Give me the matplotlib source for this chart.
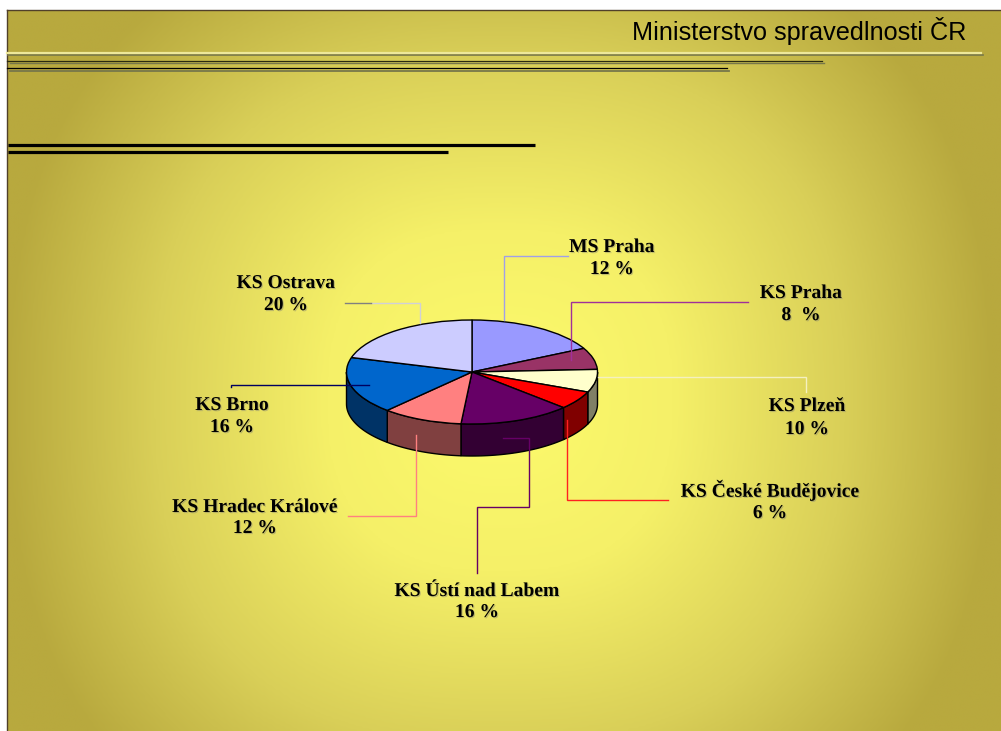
import numpy as np
from matplotlib import pyplot as plt
from matplotlib import patheffects as pe
from matplotlib.colors import LinearSegmentedColormap
from matplotlib.transforms import Affine2D

# data: shares as drawn in the pie, labels as printed
kraje = ['MS Praha', 'KS Praha', 'KS Plzeň', 'KS České Budějovice',
         'KS Ústí nad Labem', 'KS Hradec Králové', 'KS Brno', 'KS Ostrava']
popisky = ['12 %', '8  %', '10 %', '6 %', '16 %', '12 %', '16 %', '20 %']
podily = [17.5, 6.7, 7.1, 5.7, 14.4, 10.4, 17.7, 20.5]

barvy = ['#9999FF', '#993366', '#FFFFCC', '#FF0000',
         '#660066', '#FF8080', '#0066CC', '#CCCCFF']
barvy_bok = ['#4D4D80', '#4D1A33', '#808066', '#800000',
             '#330033', '#804040', '#003366', '#666680']

# label centres in pixels (first line, second line), same order as kraje
pozice = [(612, 247, 269), (801, 293, 315), (807, 406, 429), (770, 490, 513),
          (477, 591, 612), (255, 507, 528), (232, 405, 427), (286, 283, 305)]

# leader lines
vodice = [
    ([568, 504, 504], [256, 256, 320], '#A0A0E8'),
    ([748, 571, 571], [302, 302, 360], '#A0309A'),
    ([598, 806, 806], [377, 377, 392], '#F4F0C0'),
    ([668, 567, 567], [500, 500, 420], '#FF2020'),
    ([477, 477, 529, 529, 503], [573, 507, 507, 438, 438], '#660066'),
    ([416, 416, 348], [435, 516, 516], '#FF8080'),
    ([231, 231, 369], [387, 385, 385], '#000060'),
    ([371, 420, 420], [303, 303, 323], '#D0D0D8'),
    ([345, 371], [303, 303], '#808080'),
]

W, H = 1001, 731
cx, cy, rx, ry, hloubka = 472, 372, 125.5, 52, 32

fig = plt.figure(figsize=(W / 100, H / 100), dpi=100, facecolor='white')
ax = fig.add_axes([0, 0, 1, 1])

# background gradient
xx, yy = np.meshgrid(np.linspace(7, W, 400), np.linspace(10, H, 300))
t = (np.abs((xx - 500) / 495) ** 2.5 + np.abs((yy - 400) / 490) ** 2.5) ** (1 / 2.5)
t = np.clip(t, 0, 1)
cmap = LinearSegmentedColormap.from_list(
    'pozadi', [(0, '#FDFB6C'), (0.35, '#F5F068'), (0.7, '#D9CF58'), (1, '#B8A93E')])
ax.imshow(t, extent=(7, W, H, 10), cmap=cmap, vmin=0, vmax=1, aspect='auto',
          interpolation='bilinear', zorder=0)
ax.plot([7, 7], [10, H], color='#50402A', lw=1, zorder=1)
ax.plot([7, W], [10, 10], color='#50402A', lw=1, zorder=1)

# header lines
ax.plot([8, 983], [54.5, 54.5], color='#77774A', lw=1.2, zorder=1)
ax.plot([7, 981], [52.7, 52.7], color='#EEE89A', lw=1.6, zorder=1)
ax.plot([10, 824], [63, 63], color='#77774A', lw=1, zorder=1)
ax.plot([7, 822], [60.7, 60.7], color='#2A2A10', lw=0.9, zorder=1)
ax.plot([10, 729], [70.7, 70.7], color='#77774A', lw=1.3, zorder=1)
ax.plot([7, 727], [68.3, 68.3], color='black', lw=0.9, zorder=1)
ax.plot([8, 535], [144.7, 144.7], color='black', lw=2.3, zorder=1, solid_capstyle='butt')
ax.plot([8, 448], [152.3, 152.3], color='black', lw=2.3, zorder=1, solid_capstyle='butt')

ax.text(966, 31, 'Ministerstvo spravedlnosti ČR', ha='right', va='center',
        family='Liberation Sans', fontsize=18.2, color='black', zorder=2)

# side of the pie, only the front half is visible
hrany = np.cumsum([0] + podily) * 3.6
for i in range(len(podily)):
    od, do = max(hrany[i], 90), min(hrany[i + 1], 270)
    if od >= do:
        continue
    th = np.radians(np.linspace(od, do, 40))
    x = cx + rx * np.sin(th)
    y = cy - ry * np.cos(th)
    ax.fill(np.r_[x, x[::-1]], np.r_[y, y[::-1] + hloubka], facecolor=barvy_bok[i],
            edgecolor='black', lw=1, zorder=3)

# top of the pie
wedges, _ = ax.pie(podily, colors=barvy, startangle=90, counterclock=False,
                   wedgeprops={'edgecolor': 'black', 'linewidth': 1})
for w in wedges:
    w.set_transform(Affine2D().scale(rx, ry).translate(cx, H - cy) + Affine2D().scale(1, -1).translate(0, H) + ax.transData)
    w.set_zorder(4)

for xs, ys, barva in vodice:
    ax.plot(xs, ys, color=barva, lw=1, zorder=5, solid_joinstyle='miter')

stin = [pe.withSimplePatchShadow(offset=(0.8, -0.8), shadow_rgbFace='#777777', alpha=0.4)]
for jmeno, popisek, (px, py1, py2) in zip(kraje, popisky, pozice):
    for s, py in ((jmeno, py1), (popisek, py2)):
        ax.text(px, py, s, ha='center', va='center', family='Liberation Serif',
                fontweight='bold', fontsize=14.1, color='black', zorder=6, path_effects=stin)

ax.set_aspect('auto')
ax.set_xlim(0, W)
ax.set_ylim(H, 0)
ax.axis('off')

fig.savefig('out.png', dpi=100)
